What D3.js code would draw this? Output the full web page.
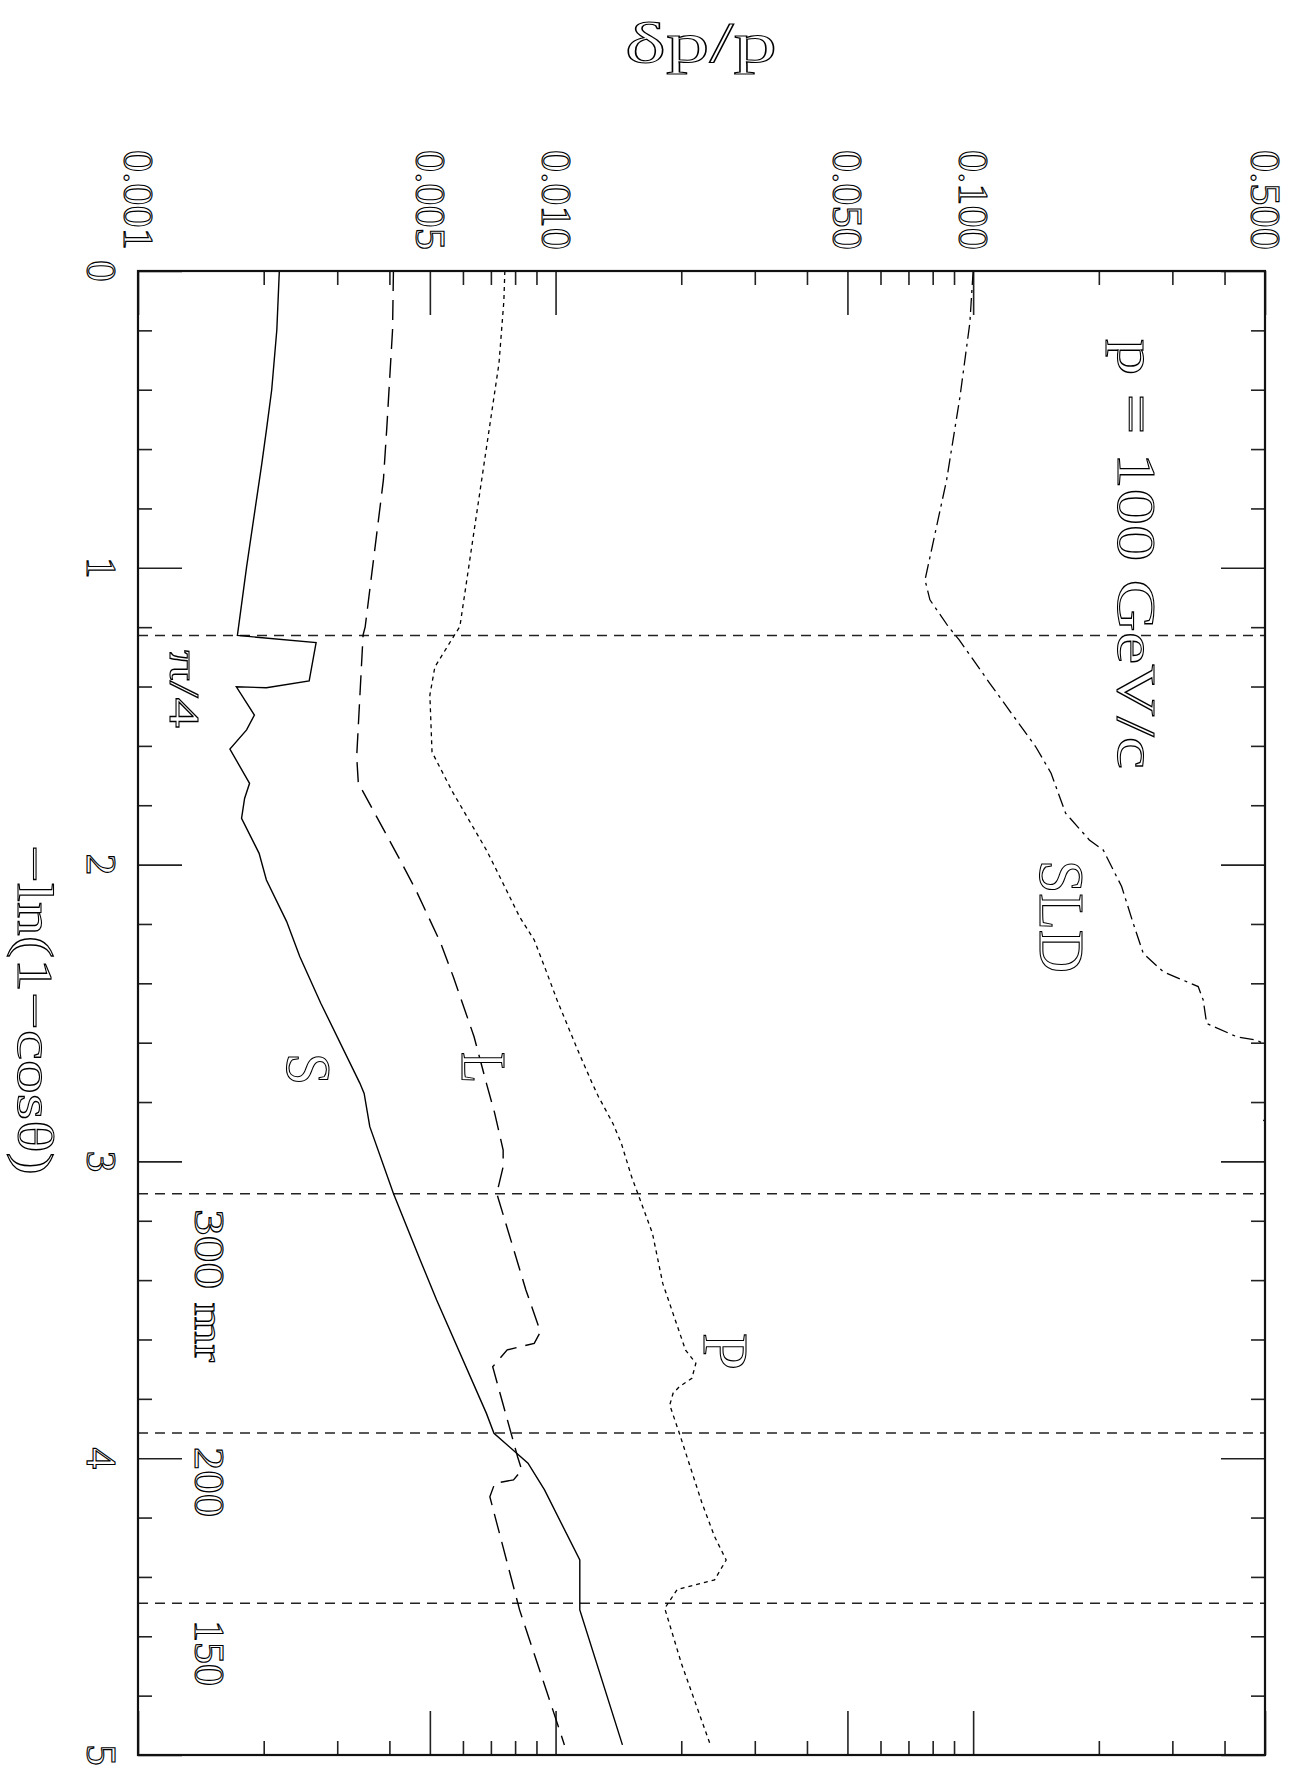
<!DOCTYPE html>
<html>
<head>
<meta charset="utf-8">
<script src="https://cdn.jsdelivr.net/npm/d3@7"></script>
<style>
html,body{margin:0;padding:0;background:#fff;}
svg{display:block;}
</style>
</head>
<body>
<svg id="chart" width="1290" height="1773"></svg>
<script>
// ---- data: t = -ln(1-cos theta), v = delta p / p ----
const curveS = [[0,0.00218],[0.199,0.00215],[0.401,0.00209],[0.536,0.00203],[0.647,0.00198],[0.997,0.00182],[1.228,0.00173],[1.252,0.00267],[1.381,0.00257],[1.404,0.00203],[1.401,0.00172],[1.496,0.0019],[1.546,0.00182],[1.611,0.00166],[1.726,0.00185],[1.777,0.0018],[1.844,0.00177],[1.962,0.00195],[2.052,0.00203],[2.192,0.00227],[2.31,0.00244],[2.467,0.00274],[2.737,0.0034],[2.771,0.00348],[2.883,0.00359],[3.108,0.00409],[3.332,0.00474],[3.467,0.00519],[3.849,0.00683],[3.916,0.00712],[4.017,0.00859],[4.107,0.00941],[4.343,0.01143],[4.511,0.01143],[4.966,0.01446]];
const curveL = [[0,0.00409],[0.199,0.00407],[0.536,0.00394],[0.704,0.00387],[1.199,0.0035],[1.226,0.00346],[1.636,0.00334],[1.725,0.00337],[1.973,0.0042],[2.086,0.00463],[2.265,0.00531],[2.378,0.00569],[2.58,0.00638],[2.737,0.00683],[2.838,0.00715],[2.962,0.00749],[3.018,0.00749],[3.108,0.00723],[3.433,0.00849],[3.574,0.0092],[3.613,0.00889],[3.635,0.00766],[3.692,0.00707],[3.995,0.00811],[4.04,0.0083],[4.073,0.00793],[4.085,0.00715],[4.13,0.00696],[4.511,0.0082],[4.848,0.00985],[4.966,0.0105]];
const curveP = [[0,0.00756],[0.1,0.00752],[0.311,0.00732],[1.198,0.0059],[1.24,0.00565],[1.334,0.00514],[1.429,0.005],[1.621,0.00506],[1.752,0.00565],[1.951,0.00683],[2.022,0.00724],[2.176,0.0082],[2.254,0.00889],[2.344,0.00941],[2.456,0.01008],[2.625,0.0113],[2.737,0.01224],[2.782,0.01267],[2.872,0.01372],[2.939,0.01437],[3.052,0.01521],[3.108,0.01574],[3.242,0.01706],[3.411,0.01806],[3.636,0.02048],[3.68,0.02168],[3.731,0.0212],[3.759,0.01979],[3.781,0.01912],[3.821,0.01877],[3.916,0.01979],[4.152,0.02243],[4.264,0.02403],[4.343,0.02562],[4.41,0.02403],[4.442,0.01956],[4.506,0.01826],[4.691,0.02001],[4.966,0.02348]];
const curveSLD = [[0,0.1],[0.175,0.0982],[0.424,0.093],[0.704,0.0864],[1.041,0.0767],[1.108,0.0788],[1.198,0.0872],[1.243,0.0926],[1.389,0.1096],[1.603,0.1412],[1.692,0.1537],[1.827,0.1665],[1.844,0.1707],[1.917,0.1898],[1.951,0.2049],[2.074,0.2268],[2.198,0.2418],[2.299,0.2555],[2.361,0.2853],[2.411,0.3459],[2.456,0.3556],[2.535,0.3624],[2.58,0.4276],[2.591,0.4774],[2.65,0.57],[2.8,0.56],[2.86,0.495],[2.92,0.56]];

const vMajorTicks = [0.001,0.005,0.01,0.05,0.1,0.5];
const vTickLabels = ["0.001","0.005","0.010","0.050","0.100","0.500"];
const vMinorTicks = [0.002,0.003,0.004,0.006,0.007,0.008,0.009,0.02,0.03,0.04,0.06,0.07,0.08,0.09,0.2,0.3,0.4];
const tMajorTicks = [0,1,2,3,4,5];
const tTickLabels = ["0","1","2","3","4","5"];
const tMinorTicks = [0.2,0.4,0.6,0.8,1.2,1.4,1.6,1.8,2.2,2.4,2.6,2.8,3.2,3.4,3.6,3.8,4.2,4.4,4.6,4.8];

const refLines = [1.228,3.109,3.915,4.489];
const refLabels = ["π/4","300 mr","200","150"];

const curveNames = ["S","L","P","SLD"];

// ---- layout ----
const svg = d3.select("#chart");
const L0 = 138, R0 = 1265, T0 = 271, B0 = 1755;
const x = d3.scaleLog().domain([0.001,0.5]).range([L0,R0]);
const y = d3.scaleLinear().domain([0,5]).range([T0,B0]);
const FONT = "'Liberation Serif','DejaVu Serif',serif";

svg.append("rect").attr("width",1290).attr("height",1773).attr("fill","#fff");

svg.append("defs").append("clipPath").attr("id","clip")
  .append("rect").attr("x",L0).attr("y",T0).attr("width",R0-L0).attr("height",B0-T0);

function axis(gen, tx, ty, vals, size){
  const g = svg.append("g").attr("transform",`translate(${tx},${ty})`)
    .call(gen.tickValues(vals).tickSize(size).tickSizeOuter(0).tickFormat(""));
  g.select(".domain").remove();
  g.selectAll("line").attr("stroke","#222").attr("stroke-width",1.6);
}
axis(d3.axisTop(x),0,T0,vMajorTicks,-44);
axis(d3.axisTop(x),0,T0,vMinorTicks,-14);
axis(d3.axisBottom(x),0,B0,vMajorTicks,-44);
axis(d3.axisBottom(x),0,B0,vMinorTicks,-14);
axis(d3.axisLeft(y),L0,0,tMajorTicks,-44);
axis(d3.axisLeft(y),L0,0,tMinorTicks,-14);
axis(d3.axisRight(y),R0,0,tMajorTicks,-44);
axis(d3.axisRight(y),R0,0,tMinorTicks,-14);

// reference lines
svg.append("g").selectAll("line").data(refLines).join("line")
  .attr("x1",L0).attr("x2",R0).attr("y1",d=>y(d)).attr("y2",d=>y(d))
  .attr("stroke","#222").attr("stroke-width",1.5).attr("stroke-dasharray","10,7");

// curves
const line = d3.line().x(d=>x(d[1])).y(d=>y(d[0]));
const curves = [
  {data:curveS, dash:null, w:1.4},
  {data:curveL, dash:"20,9", w:1.4},
  {data:curveP, dash:"4,4", w:1.3},
  {data:curveSLD, dash:"14,5,3,5", w:1.3}
];
const cg = svg.append("g").attr("clip-path","url(#clip)");
curves.forEach(c=>{
  cg.append("path").attr("d",line(c.data)).attr("fill","none")
    .attr("stroke","#000").attr("stroke-width",c.w)
    .attr("stroke-dasharray",c.dash);
});

// frame
svg.append("rect").attr("x",L0).attr("y",T0).attr("width",R0-L0).attr("height",B0-T0)
  .attr("fill","none").attr("stroke","#111").attr("stroke-width",2.2);

// text helper: rotated 90deg clockwise text, baseline at bx, anchored at ay
function rtext(str, bx, ay, fs, anchor, len){
  const t = svg.append("text")
    .attr("transform",`translate(${bx},${ay}) rotate(90)`)
    .attr("text-anchor",anchor)
    .attr("font-family",FONT).attr("font-size",fs)
    .attr("fill","#fff").attr("stroke","#000").attr("stroke-width",1.1)
    .text(str);
  if(len){ t.attr("textLength",len).attr("lengthAdjust","spacingAndGlyphs"); }
  return t;
}

// top tick labels
vMajorTicks.forEach((v,i)=>{
  rtext(vTickLabels[i], x(v)-14, 250, 43, "end", 100);
});
// left tick labels
tMajorTicks.forEach((t,i)=>{
  rtext(tTickLabels[i], 87, y(t), 43, "middle");
});

// axis titles
rtext("−ln(1−cosθ)", 18, 1010, 51, "middle", 330);
svg.append("text").attr("x",701).attr("y",62).attr("text-anchor","middle")
  .attr("font-family",FONT).attr("font-size",58)
  .attr("fill","#fff").attr("stroke","#000").attr("stroke-width",1.1)
  .attr("textLength",152).attr("lengthAdjust","spacingAndGlyphs")
  .text("δp/p");

// annotation
rtext("p = 100 GeV/c", 1118, 339, 55, "start", 430);

// curve labels
const curveLabelPos = [
  {bx:287, ay:1053, len:32},
  {bx:462, ay:1052, len:31},
  {bx:704, ay:1333, len:37},
  {bx:1040, ay:860, len:113}
];
curveNames.forEach((n,i)=>{
  const p = curveLabelPos[i];
  rtext(n, p.bx, p.ay, 64, "start", p.len);
});

// reference line labels
const refLabelPos = [
  {bx:170, ay:650, len:78},
  {bx:195, ay:1209, len:153},
  {bx:195, ay:1447, len:70},
  {bx:195, ay:1620, len:66}
];
refLabels.forEach((s,i)=>{
  const p = refLabelPos[i];
  rtext(s, p.bx, p.ay, 43, "start", p.len);
});
</script>
</body>
</html>
